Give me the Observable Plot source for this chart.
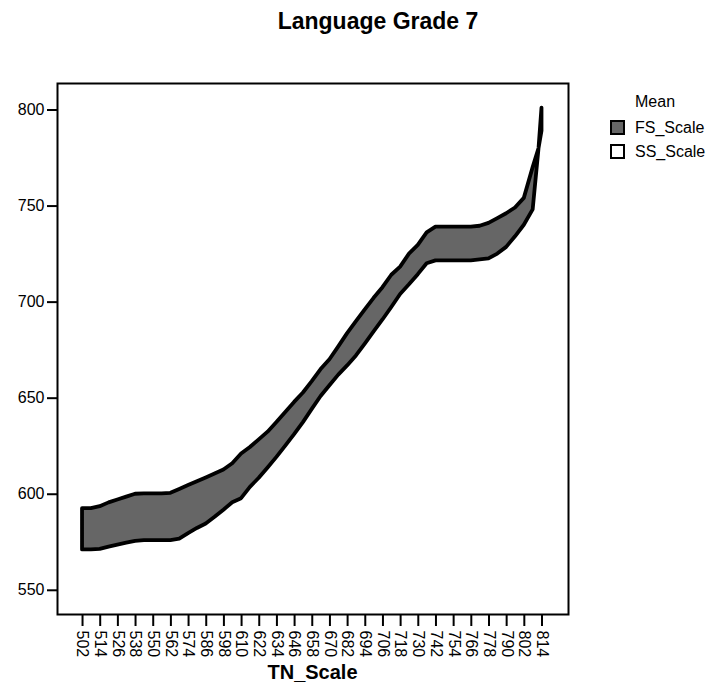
<!DOCTYPE html>
<html><head><meta charset="utf-8">
<script src="https://cdn.jsdelivr.net/npm/d3@7"></script>
<script src="https://cdn.jsdelivr.net/npm/@observablehq/plot@0.6"></script>
<style>body{margin:0;background:#fff;font-family:"Liberation Sans",Arial,sans-serif}</style>
</head><body><div id="chart"></div>
<script>
const tnScale = [502,508,514,520,526,532,538,544,550,556,562,568,574,580,586,592,598,604,610,616,622,628,634,640,646,652,658,664,670,676,682,688,694,700,706,712,718,724,730,736,742,748,754,760,766,772,778,784,790,796,802,808,812,814];
const fsScale = [592.5,592.5,593.5,595.5,597,598.5,600,600.2,600.2,600.2,600.5,602.5,604.5,606.5,608.5,610.5,612.6,615.9,620.9,624.3,628.3,632.3,637.3,642.6,647.8,652.7,658.6,664.9,670,676.7,683.6,689.8,696,702,707.5,714,718.2,725,729.5,736,739,739,739,739,739,739.5,741,743.5,746,749,754,770,780,801];
const ssScale = [571,571,571.3,572.5,573.5,574.5,575.5,575.9,575.9,575.9,575.9,576.6,579.5,582.2,584.5,588,591.7,595.6,597.7,603.6,608.3,613.7,619.2,625,631,637.3,644.2,650.9,656.5,662,666.8,672,678.2,684.5,690.7,697.2,704,709,714.3,720,721.5,721.5,721.5,721.5,721.5,722,722.5,725,728.5,734,740,748,780,789];
const xTickValues = [502,514,526,538,550,562,574,586,598,610,622,634,646,658,670,682,694,706,718,730,742,754,766,778,790,802,814];
const yTickValues = [550,600,650,700,750,800];
const titleText = "Language Grade 7";
const xLabel = "TN_Scale";
const legendTitle = "Mean";
const seriesNames = ["FS_Scale","SS_Scale"];
const seriesFills = ["#666666","#ffffff"];

const data = tnScale.map((x,i)=>({tn:x, fs:fsScale[i], ss:ssScale[i]}));
const FONT = "Liberation Sans, Arial, sans-serif";

const chart = Plot.plot({
  width:709, height:687,
  marginLeft:57, marginRight:141, marginTop:83, marginBottom:73,
  style:{fontFamily:FONT, fontSize:"16px", color:"#000", background:"#fff", overflow:"visible"},
  x:{domain:[485,832]},
  y:{domain:[537.4,813.8]},
  marks:[
    Plot.areaY(data,{x:"tn", y1:"ss", y2:"fs", fill:seriesFills[0], stroke:"#000", strokeWidth:3.8, strokeLinejoin:"round"}),
    Plot.frame({stroke:"#000", strokeWidth:2}),
    Plot.axisY({ticks:yTickValues, tickSize:10, tickPadding:3, strokeWidth:2, label:null, fill:"#000"}),
    Plot.axisX({ticks:xTickValues, tickSize:12, tickPadding:4, tickRotate:90, strokeWidth:2, label:null, fill:"#000"})
  ]
});
document.getElementById("chart").appendChild(chart);

const svg = d3.select(chart);
svg.append("text").attr("x",378).attr("y",29).attr("text-anchor","middle")
  .style("font-family",FONT).style("font-weight","bold").style("font-size","23px").attr("fill","#000").text(titleText);
svg.append("text").attr("x",312.5).attr("y",679).attr("text-anchor","middle")
  .style("font-family",FONT).style("font-weight","bold").style("font-size","20px").attr("fill","#000").text(xLabel);
const lg = svg.append("g").style("font-family",FONT).style("font-size","16px").attr("text-anchor","start");
lg.append("text").attr("x",635).attr("y",107).attr("text-anchor","start").attr("fill","#000").text(legendTitle);
seriesNames.forEach((name,i)=>{
  const yy = 121 + i*24;
  lg.append("rect").attr("x",611).attr("y",yy).attr("width",13).attr("height",13)
    .attr("fill",seriesFills[i]).attr("stroke","#000").attr("stroke-width",2);
  lg.append("text").attr("x",635).attr("y",yy+12).attr("text-anchor","start").attr("fill","#000").text(name);
});
</script></body></html>
